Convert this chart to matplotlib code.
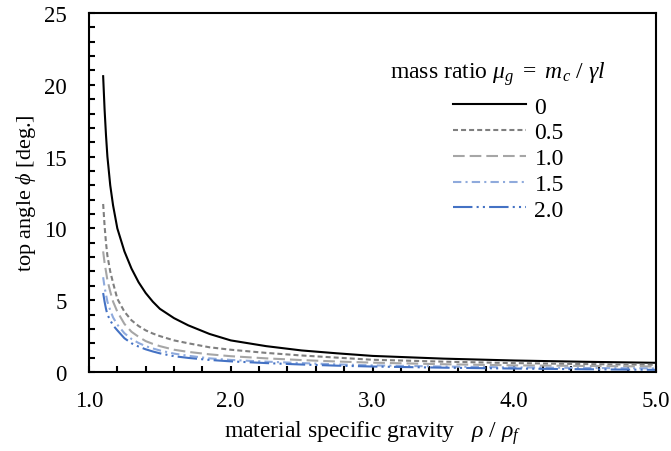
#!/usr/bin/env python
import sys
import matplotlib
matplotlib.use('Agg')
import matplotlib.pyplot as plt
from matplotlib.ticker import MultipleLocator, FormatStrFormatter

# material specific gravity rho / rho_f
rho = [1.10, 1.11, 1.12, 1.13, 1.15, 1.17, 1.20, 1.25, 1.30, 1.35,
       1.40, 1.45, 1.50, 1.60, 1.70, 1.85, 2.00, 2.25, 2.50, 2.75,
       3.00, 3.50, 4.00, 4.50, 5.00]

# top angle phi [deg.] for each mass ratio
phi_00 = [20.6, 18.3, 16.5, 15.0, 13.0, 11.6, 10.0, 8.4, 7.2, 6.25,
          5.5, 4.9, 4.4, 3.75, 3.25, 2.65, 2.2, 1.8, 1.5, 1.3,
          1.12, 0.93, 0.8, 0.71, 0.64]
phi_05 = [11.7, 10.2, 9.0, 8.1, 7.0, 6.2, 5.1, 4.2, 3.6, 3.2,
          2.9, 2.68, 2.5, 2.2, 2.0, 1.72, 1.55, 1.33, 1.15, 1.0,
          0.85, 0.72, 0.62, 0.55, 0.5]
phi_10 = [8.4, 7.6, 7.0, 6.4, 5.6, 4.9, 4.2, 3.35, 2.8, 2.45,
          2.15, 1.96, 1.8, 1.55, 1.4, 1.23, 1.1, 0.95, 0.83, 0.73,
          0.65, 0.54, 0.46, 0.42, 0.38]
phi_15 = [6.6, 5.9, 5.4, 4.9, 4.3, 3.8, 3.3, 2.7, 2.3, 2.02,
          1.8, 1.64, 1.5, 1.28, 1.13, 0.95, 0.84, 0.72, 0.62, 0.53,
          0.46, 0.38, 0.32, 0.28, 0.25]
phi_20 = [5.5, 4.9, 4.4, 4.0, 3.6, 3.25, 2.9, 2.35, 2.0, 1.77,
          1.58, 1.43, 1.3, 1.1, 0.98, 0.84, 0.74, 0.62, 0.52, 0.44,
          0.38, 0.3, 0.24, 0.19, 0.15]

labels = ['0', '0.5', '1.0', '1.5', '2.0']


def main():
    plt.rcParams['font.family'] = ['Liberation Serif', 'DejaVu Serif']
    plt.rcParams['mathtext.fontset'] = 'custom'
    plt.rcParams['mathtext.rm'] = 'Liberation Serif'
    plt.rcParams['mathtext.it'] = 'Liberation Serif:italic'
    plt.rcParams['mathtext.fallback'] = 'stix'
    plt.rcParams['lines.scale_dashes'] = False

    fig = plt.figure(figsize=(6.71, 4.52), dpi=100)
    ax = fig.add_axes([0.1326, 0.1748, 0.8451, 0.7942])

    series = [phi_00, phi_05, phi_10, phi_15, phi_20]
    colors = ['black', '#7f7f7f', '#a6a6a6', '#8faadc', '#4472c4']
    dashes = [None, (3.6, 2.2), (8.4, 3.6), (6, 3, 1.5, 3),
              (14, 3, 1.5, 3, 1.5, 3)]
    for phi, c, d, lab in zip(series, colors, dashes, labels):
        line, = ax.plot(rho, phi, color=c, lw=1.5, label=lab)
        if d is not None:
            line.set_dashes(d)

    ax.set_xlim(1.0, 5.0)
    ax.set_ylim(0, 25)
    ax.xaxis.set_major_locator(MultipleLocator(1.0))
    ax.xaxis.set_minor_locator(MultipleLocator(0.2))
    ax.xaxis.set_major_formatter(FormatStrFormatter('%.1f'))
    ax.yaxis.set_major_locator(MultipleLocator(5))
    ax.yaxis.set_minor_locator(MultipleLocator(1))
    ax.tick_params(which='both', direction='in', length=4, width=1.5,
                   labelsize=16.5, top=False, right=False)
    ax.tick_params(axis='x', which='major', pad=13)
    ax.tick_params(axis='y', which='major', pad=16)
    for s in ax.spines.values():
        s.set_linewidth(1.5)

    ax.set_xlabel(r'material specific gravity   $\rho$ / $\rho_f$', fontsize=17,
                  labelpad=5)
    ax.set_ylabel(r'top angle $\phi$ [deg.]', fontsize=16, labelpad=4)

    # legend title drawn on its own, entries sit a little right of its centre
    fig.text(498 / 671, 1 - 74 / 452, r'mass ratio $\mu_g$ $=$ $m_c$ / $\gamma l$',
             fontsize=17, ha='center', va='center')
    ax.legend(loc='upper left', bbox_to_anchor=(453 / 671, 1 - 97 / 452),
              bbox_transform=fig.transFigure, frameon=False,
              fontsize=17, handlelength=3.1, handletextpad=0.35,
              labelspacing=0.18, borderaxespad=0, borderpad=0)

    fig.savefig('out.png', dpi=100)


if __name__ == '__main__':
    sys.exit(main())
